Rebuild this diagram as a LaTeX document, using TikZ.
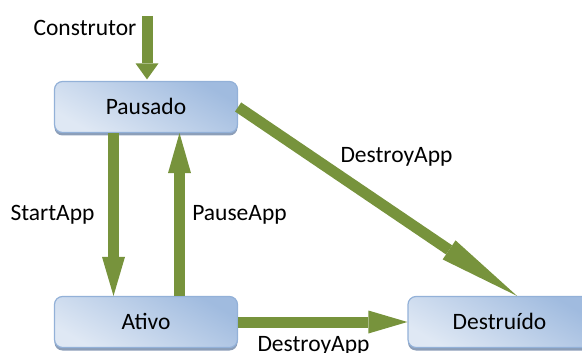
\documentclass[tikz,border=0pt]{standalone}
\usepackage{fontspec}
\setmainfont{Carlito}
\usetikzlibrary{arrows.meta,shadows}

\definecolor{arrowgreen}{HTML}{77933C}
\definecolor{boxlight}{HTML}{DFE8F4}
\definecolor{boxmid}{HTML}{C9D8EC}
\definecolor{boxdark}{HTML}{A0BBDF}
\definecolor{boxedge}{HTML}{93B1D8}
\definecolor{boxshadow}{HTML}{7F93B0}

\begin{document}
\begin{tikzpicture}[x=1pt,y=-1pt,
  state/.style={rectangle, rounded corners=8pt, draw=boxedge, line width=1.2pt,
    top color=boxdark, middle color=boxmid, bottom color=boxlight, shading angle=-30,
    minimum width=183pt, minimum height=51pt, inner sep=0pt,
    font=\fontsize{23.5}{28}\selectfont, text height=15pt, text depth=0pt,
    drop shadow={shadow xshift=0pt, shadow yshift=-3pt, fill=boxshadow, opacity=0.9}},
  edgetext/.style={font=\fontsize{23.5}{28}\selectfont, inner sep=0pt, anchor=base},
  flow/.style={draw=arrowgreen, line width=11pt,
    -{Triangle[length=#1, width=23pt, line width=0pt]}},
]
\useasboundingbox (0,0) rectangle (582,353);

% states
\node[state] (paus)  at (146,107)   {Pausado};
\node[state] (ativo) at (146,322)   {Ativo};
\node[state] (dest)  at (499.5,322) {Destruído};

% transitions
\coordinate (ctop) at (147,16);
\draw[flow=16pt, shorten >=1.5pt] (ctop) -- (paus.north -| ctop);
\draw[flow=39pt] ([xshift=-32.5pt]paus.south) -- ([xshift=-32.5pt]ativo.north);
\draw[flow=40pt] ([xshift=33.5pt]ativo.north) -- ([xshift=33.5pt]paus.south);
\draw[flow=82pt] (paus.east) -- ([xshift=17.5pt]dest.north);
\draw[flow=39pt] (ativo.east) -- (dest.west);

% transition names
\node[edgetext] (tcons)  at (85,36)    {Construtor};
\node[edgetext] (tstart) at (52.5,220) {StartApp};
\node[edgetext] (tpause) at (239.5,220) {PauseApp};
\node[edgetext] (tdiag)  at (396.5,163) {DestroyApp};
\node[edgetext] (tdest)  at (313.5,351) {DestroyApp};
\end{tikzpicture}
\end{document}
